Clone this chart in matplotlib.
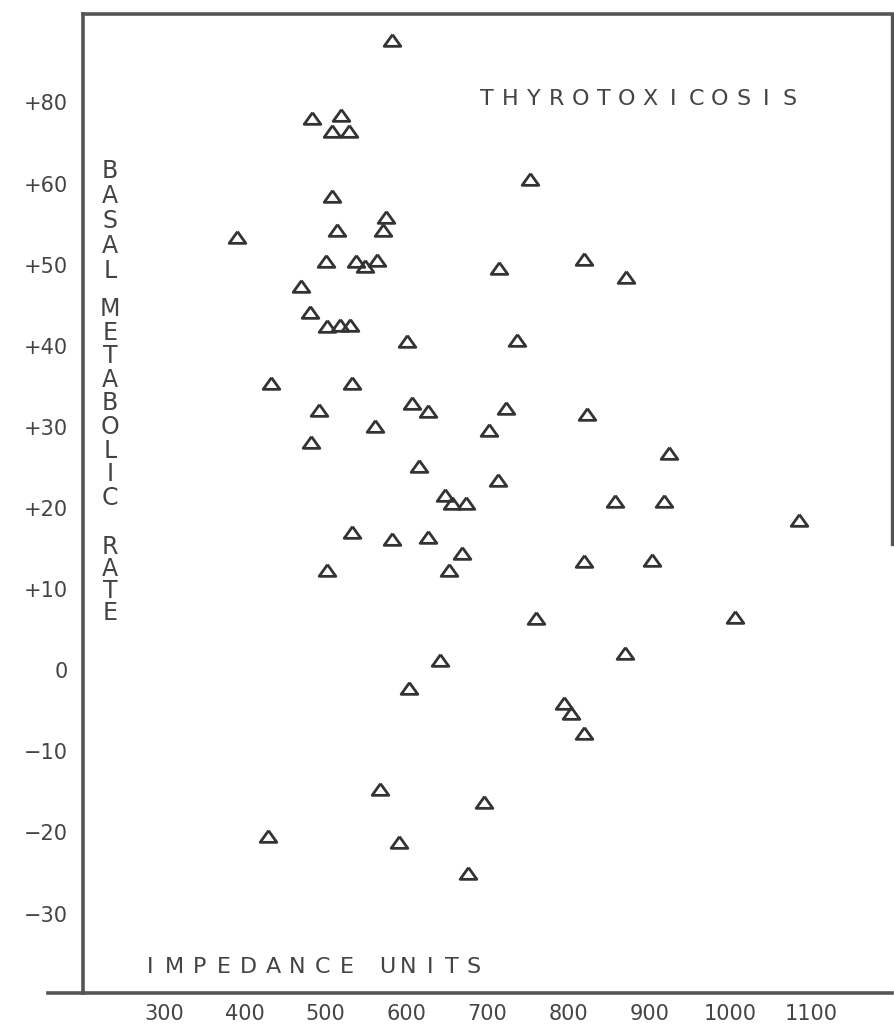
import matplotlib
matplotlib.use("Agg")
import matplotlib.pyplot as plt

# ---- data ----
impedance = [582, 483, 519, 508, 529, 753, 508, 575, 571, 514,
             390, 500, 538, 549, 563, 714, 820, 470, 481, 501,
             518, 530, 601, 736, 872, 432, 533, 492, 607, 627,
             561, 702, 482, 616, 648, 656, 674, 532, 582, 627,
             668, 502, 653, 641, 723, 823, 925, 713, 858, 918,
             1086, 820, 904, 760, 1006, 870, 603, 567, 696, 429,
             591, 676, 795, 803, 820]
bmr = [77.7, 68.1, 68.5, 66.5, 66.5, 60.5, 58.4, 55.9, 54.3, 54.3,
       53.4, 50.5, 50.5, 49.8, 50.6, 49.6, 50.7, 47.4, 44.2, 42.4,
       42.6, 42.6, 40.6, 40.7, 48.5, 35.4, 35.4, 32.1, 33.0, 32.0,
       30.1, 29.6, 28.1, 25.2, 21.6, 20.6, 20.6, 17.0, 16.2, 16.4,
       14.5, 12.3, 12.3, 1.2, 32.3, 31.6, 26.8, 23.4, 20.8, 20.9,
       18.5, 13.5, 13.6, 6.4, 6.5, 2.1, -2.2, -14.7, -16.3, -20.5,
       -21.2, -25.0, -4.1, -5.3, -7.8]

x_ticks = [300, 400, 500, 600, 700, 800, 900, 1000, 1100]
x_tick_labels = ["300", "400", "500", "600", "700", "800", "900", "1000", "1100"]
# the original sheet labels the 70 line as "+80"
y_ticks = [70, 60, 50, 40, 30, 20, 10, 0, -10, -20, -30]
y_tick_labels = ["+80", "+60", "+50", "+40", "+30", "+20", "+10", "0",
                 "\u221210", "\u221220", "\u221230"]

W, H = 895, 1032
INK = "#444444"

fig = plt.figure(figsize=(W / 100, H / 100), dpi=100)
fig.patch.set_facecolor("white")

# axes box in pixels: left 83, right 892, top 14, bottom 993
ax = fig.add_axes([83.2 / W, 1 - 993 / H, (891.6 - 83.2) / W, (993 - 14) / H])
ax.set_xlim(200, 1200)
ax.set_ylim(-39.8, 80.9)

# flattened open triangle, like the hand-inked symbols
tri = [(0, 0.7), (-1, -0.7), (1, -0.7), (0, 0.7)]
ax.plot(impedance, bmr, linestyle="none", marker=tri, markersize=12,
        markerfacecolor="none", markeredgecolor="#333333", markeredgewidth=2.0)

ax.set_xticks(x_ticks)
ax.set_xticklabels(x_tick_labels)
ax.set_yticks(y_ticks)
ax.set_yticklabels(y_tick_labels)
ax.tick_params(axis="both", length=0, labelsize=15, labelcolor=INK)
ax.tick_params(axis="x", pad=8)
ax.tick_params(axis="y", pad=11)

for side in ["left", "top", "bottom"]:
    ax.spines[side].set_linewidth(2.6)
    ax.spines[side].set_color("#555555")
ax.spines["right"].set_visible(False)
# right border only runs part way down on the sheet
ax.plot([1200, 1200], [15.5, 80.9], color="#555555", lw=2.4, clip_on=False)
# bottom rule sticks out to the left of the frame
ax.plot([-0.044, 0], [0, 0], transform=ax.transAxes, color="#555555",
        lw=2.6, clip_on=False)


def letters(chars, x0, y0, step, vertical=False, size=16):
    # hand lettering: one glyph at a time with wide spacing (pixel coords)
    for i, ch in enumerate(chars):
        x = x0 if vertical else x0 + i * step
        y = y0 + i * step if vertical else y0
        fig.text(x / W, 1 - y / H, ch, ha="center", va="center",
                 fontsize=size, color=INK, family="DejaVu Sans")


letters("THYROTOXICOSIS", 487, 99, 23.3)
letters("IMPEDANCE", 150, 967, 24.6)
letters("UNITS", 387, 967, 21.6)
letters("BASAL", 110, 171, 25, vertical=True, size=17)
letters("METABOLIC", 110, 309, 23.6, vertical=True, size=17)
letters("RATE", 110, 547, 22, vertical=True, size=17)

fig.savefig("out.png", dpi=100, facecolor="white")
